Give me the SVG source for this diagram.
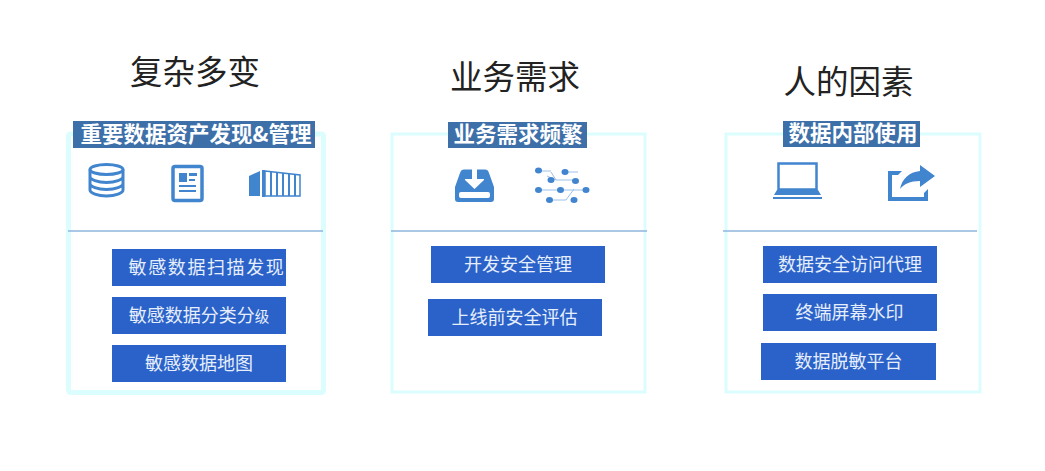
<svg xmlns="http://www.w3.org/2000/svg" width="1045" height="471" viewBox="0 0 1045 471">
<style>
text{font-family:"Noto Sans CJK SC","Noto Sans",sans-serif;text-anchor:middle}
.title{font-size:32.5px;fill:#222}
.panel{fill:#fff;stroke:#dcfdfd;stroke-width:3}
.div{stroke:#8fb4de;stroke-width:1.300}
.head{fill:#3d6fa8}
.headt{font-size:21.500px;font-weight:700;fill:#fff}
.btn{fill:#2a62c9}
.btnt{font-size:18px;fill:#e6eefb}
.i{fill:#4285cf}
.o{fill:none;stroke:#4285cf}
.t{fill:none;stroke:#9cc0e8;stroke-width:1}
</style>
<rect width="1045" height="471" fill="#fff"/>
<g id="col1">
<text class="title" x="195" y="84">复杂多变</text>
<rect class="panel" x="68.500" y="134" width="255" height="258.500" rx="2" style="stroke-width:5"/>
<line class="div" x1="68" y1="231" x2="323" y2="231"/>
<rect class="head" x="73" y="121" width="242" height="27"/>
<text class="headt" x="196" y="141.500">重要数据资产发现&amp;管理</text>
<g id="icon-db">
<ellipse class="o" cx="106.500" cy="169.500" rx="16.500" ry="5" stroke-width="3"/>
<path class="o" stroke-width="3" d="M90 169.500V190C90 193 97.500 196 106.500 196S123 193 123 190V169.500M90 176.500C90 179.500 97.500 182.500 106.500 182.500S123 179.500 123 176.500M90 183.500C90 186.500 97.500 189.500 106.500 189.500S123 186.500 123 183.500"/>
</g>
<g id="icon-doc">
<rect class="o" x="173" y="166.500" width="29" height="34" rx="2" stroke-width="3.500"/>
<rect class="i" x="179" y="173" width="8" height="9"/>
<path class="i" d="M189 173h8v3h-8zM189 179h6v2h-6zM179 185h17v2h-17zM179 190h17v2h-17z"/>
</g>
<g id="icon-container">
<path class="i" d="M249 176L260 171V196H249Z"/>
<path class="o" stroke-width="1.500" d="M265 171L300 175V196H265Z"/>
<path class="i" d="M262 170h3v27h-3zM270 172h2v24h-2zM276 173h2v23h-2zM282 173h2v23h-2zM288 174h2v22h-2zM294 175h2v21h-2z"/>
</g>
<rect class="btn" x="112" y="249" width="174" height="37"/>
<text class="btnt" x="207" y="273.500" style="letter-spacing:1.600px">敏感数据扫描发现</text>
<rect class="btn" x="112" y="297" width="174" height="37"/>
<text class="btnt" x="199" y="321.500">敏感数据分类分<tspan font-size="14.500">级</tspan></text>
<rect class="btn" x="112" y="345" width="174" height="37"/>
<text class="btnt" x="199" y="369.500">敏感数据地图</text>
</g>
<g id="col2">
<text class="title" x="515" y="89">业务需求</text>
<rect class="panel" x="392" y="134" width="253" height="258"/>
<line class="div" x1="391" y1="231" x2="647" y2="231"/>
<rect class="head" x="448" y="122" width="139" height="26"/>
<text class="headt" x="518" y="142">业务需求频繁</text>
<g id="icon-inbox">
<path class="i" d="M464 169.500H472V179H465V180L474.500 189L484 180V179H477V169.500H485C487 169.500 488 170 489 173L494 187V199C494 201 493 202 491 202H458C456 202 455 201 455 199V187L460 173C461 170 462 169.500 464 169.500Z"/>
<rect x="459" y="192" width="31" height="6" rx="2" fill="#fff"/>
</g>
<g id="icon-circuit">
<path class="t" d="M539 171H551M565 172H578M539 190H560M560 190H586M574 189L566 200H550M547 176L556 180H575M551 172L556 180"/>
<ellipse class="i" cx="538.500" cy="170.500" rx="3.500" ry="3"/>
<ellipse class="i" cx="565" cy="172" rx="3.500" ry="3"/>
<ellipse class="i" cx="551" cy="180" rx="3.500" ry="3"/>
<ellipse class="i" cx="575.500" cy="181" rx="3.500" ry="3"/>
<ellipse class="i" cx="538.500" cy="190" rx="3.500" ry="3"/>
<ellipse class="i" cx="560.500" cy="190" rx="3.500" ry="3"/>
<ellipse class="i" cx="586" cy="190" rx="3.500" ry="3"/>
<ellipse class="i" cx="549.500" cy="200" rx="3.500" ry="3"/>
<ellipse class="i" cx="574" cy="200" rx="3.500" ry="3"/>
</g>
<rect class="btn" x="431" y="246" width="174" height="37"/>
<text class="btnt" x="518" y="270.500">开发安全管理</text>
<rect class="btn" x="428" y="299" width="174" height="37"/>
<text class="btnt" x="514.500" y="323.500">上线前安全评估</text>
</g>
<g id="col3">
<text class="title" x="848.500" y="94">人的因素</text>
<rect class="panel" x="726" y="134" width="254" height="258"/>
<line class="div" x1="723" y1="231" x2="977" y2="231"/>
<rect class="head" x="783" y="121" width="137" height="26"/>
<text class="headt" x="853" y="141">数据内部使用</text>
<g id="icon-laptop">
<rect class="o" x="778.500" y="163.500" width="38" height="26" stroke-width="2.500"/>
<path class="i" d="M777 190H818L821 195H774ZM773 197H822V199H773Z"/>
</g>
<g id="icon-share">
<path class="i" d="M888 171H902L898 175H892V197H924V193L928 189V201H888Z"/>
<path class="i" d="M920 165L935 176L920 187V181C910 181 904 184 900 189C902 179 909 172 920 171Z"/>
</g>
<rect class="btn" x="763" y="246" width="174" height="37"/>
<text class="btnt" x="850" y="270.500">数据安全访问代理</text>
<rect class="btn" x="763" y="294" width="174" height="37"/>
<text class="btnt" x="849.500" y="318.500">终端屏幕水印</text>
<rect class="btn" x="761" y="343" width="175" height="37"/>
<text class="btnt" x="848.500" y="367.500">数据脱敏平台</text>
</g>
</svg>
